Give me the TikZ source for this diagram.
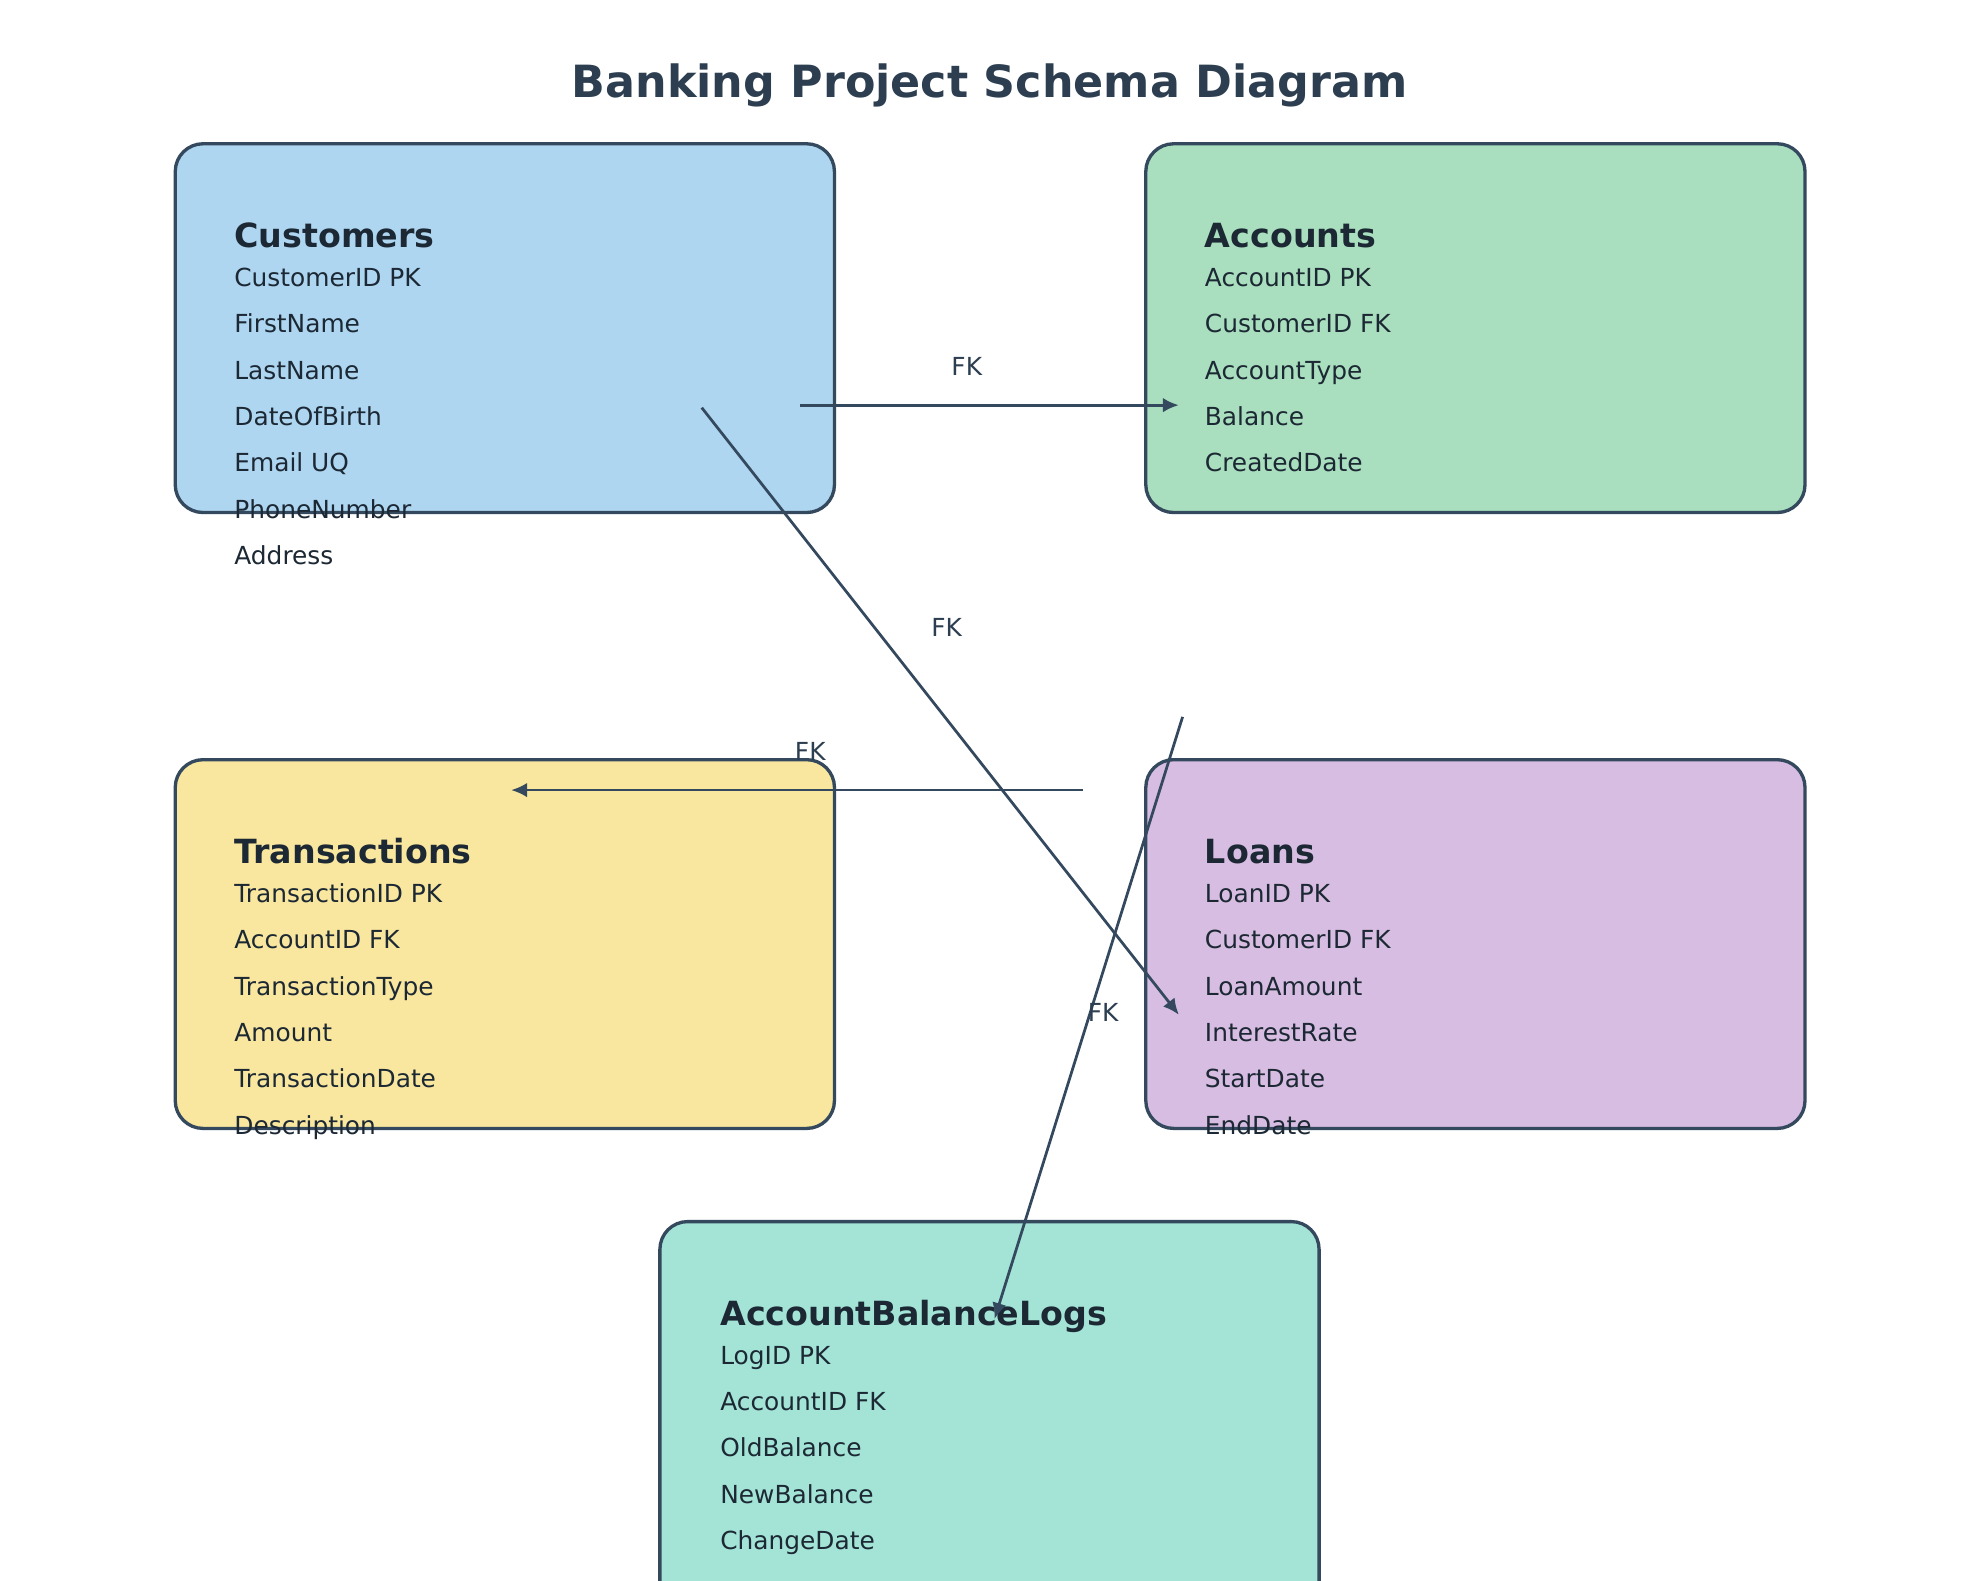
\documentclass[tikz,border=0pt]{standalone}
\usepackage{fontspec}
\setmainfont{DejaVu Sans}
\usetikzlibrary{arrows.meta}

\definecolor{titlecol}{HTML}{2C3E50}
\definecolor{edgecol}{HTML}{34495E}
\definecolor{textcol}{HTML}{1C2833}
\definecolor{custblue}{HTML}{AED6F1}
\definecolor{accgreen}{HTML}{A9DFBF}
\definecolor{transyellow}{HTML}{F9E79F}
\definecolor{loanpurple}{HTML}{D7BDE2}
\definecolor{logteal}{HTML}{A3E4D7}

\tikzset{
  tablebox/.style={draw=edgecol, line width=0.75pt, rounded corners=0.22cm,
    minimum width=5.22cm, minimum height=2.92cm, inner sep=0pt, outer sep=0pt},
  tablehead/.style={anchor=base west, inner sep=0pt, text=textcol,
    font=\bfseries\fontsize{7.5}{9}\selectfont},
  field/.style={anchor=base west, inner sep=0pt, text=textcol,
    font=\fontsize{5.6}{7}\selectfont},
  fkline/.style={draw=edgecol, line width=0.62pt, -{Latex[length=3.6pt,width=3.3pt]}},
  fklabel/.style={inner sep=0pt, text=titlecol, font=\fontsize{5.6}{7}\selectfont},
}

\begin{document}
\begin{tikzpicture}[x=0.01cm, y=-0.01cm]
  \clip (0,0) rectangle (1568,1252);
  \fill[white] (0,0) rectangle (1568,1252);

  \node[font=\bfseries\fontsize{10}{12}\selectfont, text=titlecol, anchor=base, inner sep=0pt]
    (title) at (784,77) {Banking Project Schema Diagram};

  % tables
  \node[tablebox, fill=custblue] (customers) at (400,260) {};
  \node[tablebox, fill=accgreen] (accounts) at (1169,260) {};
  \node[tablebox, fill=transyellow] (transactions) at (400,748) {};
  \node[tablebox, fill=loanpurple] (loans) at (1169,748) {};
  \node[tablebox, fill=logteal, minimum height=3.6cm] (logs) at (784,1148) {};

  \node[tablehead] (customers-head) at (185,196) {Customers};
  \foreach \f [count=\i] in {CustomerID PK, FirstName, LastName, DateOfBirth, Email UQ, PhoneNumber, Address}
    \node[field] (customers-\i) at (185,{190.3+36.7*\i}) {\f};

  \node[tablehead] (accounts-head) at (954,196) {Accounts};
  \foreach \f [count=\i] in {AccountID PK, CustomerID FK, AccountType, Balance, CreatedDate}
    \node[field] (accounts-\i) at (954,{190.3+36.7*\i}) {\f};

  \node[tablehead] (transactions-head) at (185,684) {Transactions};
  \foreach \f [count=\i] in {TransactionID PK, AccountID FK, TransactionType, Amount, TransactionDate, Description}
    \node[field] (transactions-\i) at (185,{678.3+36.7*\i}) {\f};

  \node[tablehead] (loans-head) at (954,684) {Loans};
  \foreach \f [count=\i] in {LoanID PK, CustomerID FK, LoanAmount, InterestRate, StartDate, EndDate}
    \node[field] (loans-\i) at (954,{678.3+36.7*\i}) {\f};

  \node[tablehead] (logs-head) at (570,1050) {AccountBalanceLogs};
  \foreach \f [count=\i] in {LogID PK, AccountID FK, OldBalance, NewBalance, ChangeDate}
    \node[field] (logs-\i) at (570,{1044.3+36.7*\i}) {\f};

  % foreign keys
  \coordinate (custacc-a) at (634,321);
  \coordinate (custacc-b) at (934,321);
  \coordinate (custloan-a) at (556,323);
  \coordinate (custloan-b) at (934,804);
  \coordinate (acctrans-a) at (858,626);
  \coordinate (acctrans-b) at (405,626);
  \coordinate (acclog-a) at (937,568);
  \coordinate (acclog-b) at (788,1045);

  \draw[fkline] (custacc-a) -- (custacc-b);
  \draw[fkline] (custloan-a) -- (custloan-b);
  \draw[fkline] (acctrans-a) -- (acctrans-b);
  \draw[fkline] (acclog-a) -- (acclog-b);

  \node[fklabel] (fk1) at (766,290) {FK};
  \node[fklabel] (fk2) at (750,497) {FK};
  \node[fklabel] (fk3) at (642,595) {FK};
  \node[fklabel] (fk4) at (874,802) {FK};
\end{tikzpicture}
\end{document}
